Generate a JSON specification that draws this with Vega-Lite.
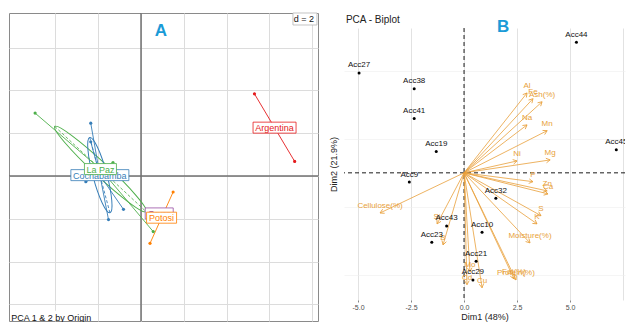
{
  "$schema": "https://vega.github.io/schema/vega-lite/v6.json",
  "padding": {"left": 7, "top": 10, "right": 0, "bottom": 0},
  "background": "white",
  "bounds": "flush",
  "spacing": 26,
  "config": {
    "font": "Liberation Sans",
    "axis": {"labelFont": "Liberation Sans", "titleFont": "Liberation Sans"},
    "text": {"font": "Liberation Sans"}
  },
  "datasets": {
    "acc": [
      {"name": "Acc44", "origin": "Argentina", "x": 5.30, "y": 3.84},
      {"name": "Acc45", "origin": "Argentina", "x": 7.18, "y": 0.68},
      {"name": "Acc38", "origin": "Cochabamba", "x": -2.35, "y": 2.47},
      {"name": "Acc41", "origin": "Cochabamba", "x": -2.35, "y": 1.60},
      {"name": "Acc9", "origin": "Cochabamba", "x": -2.58, "y": -0.27},
      {"name": "Acc23", "origin": "Cochabamba", "x": -1.52, "y": -2.04},
      {"name": "Acc43", "origin": "Cochabamba", "x": -0.82, "y": -1.56},
      {"name": "Acc27", "origin": "La Paz", "x": -4.95, "y": 2.94},
      {"name": "Acc19", "origin": "La Paz", "x": -1.31, "y": 0.63},
      {"name": "Acc21", "origin": "La Paz", "x": 0.57, "y": -2.60},
      {"name": "Acc10", "origin": "Oruro", "x": 0.85, "y": -1.75},
      {"name": "Acc32", "origin": "Potosi", "x": 1.50, "y": -0.75},
      {"name": "Acc29", "origin": "Potosi", "x": 0.42, "y": -3.15}
    ],
    "vars": [
      {"name": "Al", "x": 2.97, "y": 2.35},
      {"name": "Fe", "x": 3.25, "y": 2.18},
      {"name": "Ash(%)", "x": 3.68, "y": 2.09},
      {"name": "Na", "x": 2.97, "y": 1.41},
      {"name": "Mn", "x": 3.92, "y": 1.24},
      {"name": "Ni", "x": 2.50, "y": 0.35},
      {"name": "Mg", "x": 4.06, "y": 0.38},
      {"name": "P", "x": 3.25, "y": -0.26},
      {"name": "Zn", "x": 3.92, "y": -0.53},
      {"name": "Ca", "x": 3.96, "y": -0.62},
      {"name": "S", "x": 3.63, "y": -1.26},
      {"name": "K", "x": 3.44, "y": -1.50},
      {"name": "Moisture(%)", "x": 3.11, "y": -2.06},
      {"name": "Protein(%)", "x": 2.45, "y": -3.15},
      {"name": "Fat(%)", "x": 2.36, "y": -3.12},
      {"name": "Cu", "x": 0.85, "y": -3.38},
      {"name": "Mo", "x": 0.28, "y": -2.91},
      {"name": "Cd", "x": 0.14, "y": -3.29},
      {"name": "Cellulose(%)", "x": -3.96, "y": -1.18},
      {"name": "Si", "x": -1.27, "y": -1.50},
      {"name": "B", "x": -0.99, "y": -2.12}
    ]
  },
  "hconcat": [
    {
      "width": 309,
      "height": 308,
      "view": {"stroke": "#8a8a8a", "strokeWidth": 1},
      "data": {"name": "acc"},
      "layer": [
        {
          "data": {"values": [{}]},
          "mark": {"type": "rule", "color": "#707070", "strokeWidth": 1.5},
          "encoding": {
            "x": {"datum": 0, "type": "quantitative",
              "scale": {"domain": [-6.17, 8.27], "nice": false, "zero": false},
              "axis": {"values": [-4, -2, 0, 2, 4, 6, 8], "grid": true, "gridColor": "#dcdcdc", "gridWidth": 1, "labels": false, "ticks": false, "domain": false, "title": null}}
          }
        },
        {
          "data": {"values": [{}]},
          "mark": {"type": "rule", "color": "#707070", "strokeWidth": 1.5},
          "encoding": {
            "y": {"datum": 0, "type": "quantitative",
              "scale": {"domain": [-6.78, 7.62], "nice": false, "zero": false},
              "axis": {"values": [-6, -4, -2, 0, 2, 4, 6], "grid": true, "gridColor": "#dcdcdc", "gridWidth": 1, "labels": false, "ticks": false, "domain": false, "title": null}}
          }
        },
        {
          "transform": [
            {"aggregate": [{"op": "mean", "field": "x", "as": "cx"}, {"op": "mean", "field": "y", "as": "cy"}], "groupby": ["origin"]},
            {"filter": "datum.origin === 'La Paz'"}
          ],
          "mark": {"type": "point", "shape": "M -62.5 0 A 62.5 7 0 1 0 62.5 0 A 62.5 7 0 1 0 -62.5 0 Z", "size": 4, "angle": 43, "filled": false, "strokeWidth": 1, "opacity": 1, "color": "#4DAF4A"},
          "encoding": {"x": {"field": "cx", "type": "quantitative"}, "y": {"field": "cy", "type": "quantitative"}}
        },
        {
          "transform": [
            {"aggregate": [{"op": "mean", "field": "x", "as": "cx"}, {"op": "mean", "field": "y", "as": "cy"}], "groupby": ["origin"]},
            {"filter": "datum.origin === 'La Paz'"}
          ],
          "mark": {"type": "point", "shape": "M -62.5 0 L 62.5 0", "size": 4, "angle": 43, "filled": false, "strokeWidth": 0.8, "strokeDash": [3, 2], "opacity": 1, "color": "#4DAF4A"},
          "encoding": {"x": {"field": "cx", "type": "quantitative"}, "y": {"field": "cy", "type": "quantitative"}}
        },
        {
          "transform": [
            {"aggregate": [{"op": "mean", "field": "x", "as": "cx"}, {"op": "mean", "field": "y", "as": "cy"}], "groupby": ["origin"]},
            {"filter": "datum.origin === 'Cochabamba'"}
          ],
          "mark": {"type": "point", "shape": "M -39 0 A 39 7 0 1 0 39 0 A 39 7 0 1 0 -39 0 Z", "size": 4, "angle": 75, "filled": false, "strokeWidth": 1, "opacity": 1, "color": "#377EB8"},
          "encoding": {"x": {"field": "cx", "type": "quantitative"}, "y": {"field": "cy", "type": "quantitative"}}
        },
        {
          "transform": [
            {"aggregate": [{"op": "mean", "field": "x", "as": "cx"}, {"op": "mean", "field": "y", "as": "cy"}], "groupby": ["origin"]},
            {"filter": "datum.origin === 'Cochabamba'"}
          ],
          "mark": {"type": "point", "shape": "M -39 0 L 39 0", "size": 4, "angle": 75, "filled": false, "strokeWidth": 0.8, "strokeDash": [3, 2], "opacity": 1, "color": "#377EB8"},
          "encoding": {"x": {"field": "cx", "type": "quantitative"}, "y": {"field": "cy", "type": "quantitative"}}
        },
        {
          "transform": [{"joinaggregate": [{"op": "mean", "field": "x", "as": "cx"}, {"op": "mean", "field": "y", "as": "cy"}], "groupby": ["origin"]}],
          "mark": {"type": "rule", "strokeWidth": 0.9},
          "encoding": {
            "x": {"field": "x", "type": "quantitative"},
            "y": {"field": "y", "type": "quantitative"},
            "x2": {"field": "cx"},
            "y2": {"field": "cy"},
            "color": {"field": "origin", "type": "nominal", "scale": {"domain": ["Argentina", "Cochabamba", "La Paz", "Oruro", "Potosi"], "range": ["#E41A1C", "#377EB8", "#4DAF4A", "#984EA3", "#FF7F00"]}, "legend": null}
          }
        },
        {
          "mark": {"type": "point", "filled": true, "size": 10, "opacity": 1},
          "encoding": {
            "x": {"field": "x", "type": "quantitative"},
            "y": {"field": "y", "type": "quantitative"},
            "color": {"field": "origin", "type": "nominal", "legend": null}
          }
        },
        {
          "transform": [
            {"aggregate": [{"op": "mean", "field": "x", "as": "cx"}, {"op": "mean", "field": "y", "as": "cy"}], "groupby": ["origin"]},
            {"filter": {"field": "origin", "oneOf": ["Argentina", "Cochabamba"]}}
          ],
          "mark": {"type": "point", "filled": true, "fill": "white", "size": 4, "opacity": 1, "strokeWidth": 0.8},
          "encoding": {
            "x": {"field": "cx", "type": "quantitative"},
            "y": {"field": "cy", "type": "quantitative"},
            "shape": {"field": "origin", "type": "nominal", "legend": null, "scale": {"domain": ["Argentina", "Cochabamba", "La Paz", "Oruro", "Potosi"], "range": ["M -21.5 -5.5 L 21.5 -5.5 L 21.5 5.5 L -21.5 5.5 Z", "M -29 -5.5 L 29 -5.5 L 29 5.5 L -29 5.5 Z", "M -16 -5.5 L 16 -5.5 L 16 5.5 L -16 5.5 Z", "M -14 -5.5 L 14 -5.5 L 14 5.5 L -14 5.5 Z", "M -15 -5.5 L 15 -5.5 L 15 5.5 L -15 5.5 Z"]}},
            "stroke": {"field": "origin", "type": "nominal", "legend": null, "scale": {"domain": ["Argentina", "Cochabamba", "La Paz", "Oruro", "Potosi"], "range": ["#E41A1C", "#377EB8", "#4DAF4A", "#984EA3", "#FF7F00"]}}
          }
        },
        {
          "transform": [
            {"aggregate": [{"op": "mean", "field": "x", "as": "cx"}, {"op": "mean", "field": "y", "as": "cy"}], "groupby": ["origin"]},
            {"filter": {"field": "origin", "oneOf": ["Argentina", "Cochabamba"]}}
          ],
          "mark": {"type": "text", "fontSize": 9, "baseline": "middle", "align": "center", "dy": 0.5},
          "encoding": {
            "x": {"field": "cx", "type": "quantitative"},
            "y": {"field": "cy", "type": "quantitative"},
            "text": {"field": "origin"},
            "color": {"field": "origin", "type": "nominal", "legend": null}
          }
        },
        {
          "transform": [
            {"aggregate": [{"op": "mean", "field": "x", "as": "cx"}, {"op": "mean", "field": "y", "as": "cy"}], "groupby": ["origin"]},
            {"filter": {"field": "origin", "oneOf": ["La Paz", "Oruro"]}}
          ],
          "mark": {"type": "point", "filled": true, "fill": "white", "size": 4, "opacity": 1, "strokeWidth": 0.8},
          "encoding": {
            "x": {"field": "cx", "type": "quantitative"},
            "y": {"field": "cy", "type": "quantitative"},
            "shape": {"field": "origin", "type": "nominal", "legend": null},
            "stroke": {"field": "origin", "type": "nominal", "legend": null}
          }
        },
        {
          "transform": [
            {"aggregate": [{"op": "mean", "field": "x", "as": "cx"}, {"op": "mean", "field": "y", "as": "cy"}], "groupby": ["origin"]},
            {"filter": {"field": "origin", "oneOf": ["La Paz", "Oruro"]}}
          ],
          "mark": {"type": "text", "fontSize": 9, "baseline": "middle", "align": "center", "dy": 0.5},
          "encoding": {
            "x": {"field": "cx", "type": "quantitative"},
            "y": {"field": "cy", "type": "quantitative"},
            "text": {"field": "origin"},
            "color": {"field": "origin", "type": "nominal", "legend": null}
          }
        },
        {
          "transform": [
            {"aggregate": [{"op": "mean", "field": "x", "as": "cx"}, {"op": "mean", "field": "y", "as": "cy"}], "groupby": ["origin"]},
            {"filter": "datum.origin === 'Potosi'"}
          ],
          "mark": {"type": "point", "filled": true, "fill": "white", "size": 4, "opacity": 1, "strokeWidth": 0.8},
          "encoding": {
            "x": {"field": "cx", "type": "quantitative"},
            "y": {"field": "cy", "type": "quantitative"},
            "shape": {"field": "origin", "type": "nominal", "legend": null},
            "stroke": {"field": "origin", "type": "nominal", "legend": null}
          }
        },
        {
          "transform": [
            {"aggregate": [{"op": "mean", "field": "x", "as": "cx"}, {"op": "mean", "field": "y", "as": "cy"}], "groupby": ["origin"]},
            {"filter": "datum.origin === 'Potosi'"}
          ],
          "mark": {"type": "text", "fontSize": 9, "baseline": "middle", "align": "center", "dy": 0.5},
          "encoding": {
            "x": {"field": "cx", "type": "quantitative"},
            "y": {"field": "cy", "type": "quantitative"},
            "text": {"field": "origin"},
            "color": {"field": "origin", "type": "nominal", "legend": null}
          }
        },
        {
          "data": {"values": [{}]},
          "mark": {"type": "text", "text": "A", "fontSize": 17, "fontWeight": "bold", "color": "#1A9BD7", "baseline": "middle", "align": "center"},
          "encoding": {"x": {"datum": 0.93}, "y": {"datum": 6.78}}
        },
        {
          "data": {"values": [{}]},
          "mark": {"type": "point", "shape": "M -12 -6 L 12 -6 L 12 6 L -12 6 Z", "size": 4, "filled": true, "fill": "white", "stroke": "#b5b5b5", "strokeWidth": 0.8, "opacity": 1},
          "encoding": {"x": {"datum": 7.66}, "y": {"datum": 7.34}}
        },
        {
          "data": {"values": [{}]},
          "mark": {"type": "text", "text": "d = 2", "fontSize": 9, "color": "#111", "baseline": "middle", "align": "right"},
          "encoding": {"x": {"datum": 8.08}, "y": {"datum": 7.34}}
        },
        {
          "data": {"values": [{}]},
          "mark": {"type": "point", "shape": "M -42 -5 L 42 -5 L 42 5 L -42 5 Z", "size": 4, "filled": true, "fill": "white", "strokeWidth": 0, "opacity": 1},
          "encoding": {"x": {"datum": -4.16}, "y": {"datum": -6.54}}
        },
        {
          "data": {"values": [{}]},
          "mark": {"type": "text", "text": "PCA 1 & 2 by Origin", "fontSize": 9, "color": "#111", "baseline": "middle", "align": "left"},
          "encoding": {"x": {"datum": -6.07}, "y": {"datum": -6.64}}
        }
      ]
    },
    {
      "spacing": 0,
      "bounds": "flush",
      "vconcat": [
        {
          "width": 281,
          "height": 15,
          "view": {"stroke": null},
          "data": {"values": [{}]},
          "mark": {"type": "text", "baseline": "top", "fontSize": 1},
          "encoding": {"text": {"value": ""}, "x": {"value": 0}, "y": {"value": 0}}
        },
        {
          "width": 281,
          "height": 272,
          "view": {"stroke": null},
          "layer": [
            {
              "data": {"values": [{}]},
              "mark": {"type": "rule", "strokeDash": [4, 3], "color": "#000", "strokeWidth": 0.9},
              "encoding": {
                "x": {"datum": 0, "type": "quantitative",
                  "scale": {"domain": [-5.66, 7.59], "nice": false, "zero": false},
                  "axis": {
                    "title": "Dim1 (48%)",
                    "values": [-5, -3.75, -2.5, -1.25, 0, 1.25, 2.5, 3.75, 5, 6.25, 7.5],
                    "labelExpr": "(abs(datum.value/2.5 - round(datum.value/2.5)) < 0.01 && datum.value < 7) ? replace(format(datum.value, '.1f'), '\u2212', '-') : ''",
                    "labelOverlap": false,
                    "labelFlush": false,
                    "grid": true,
                    "gridColor": {"condition": {"test": "abs(datum.value/2.5 - round(datum.value/2.5)) < 0.01", "value": "#e2e2e2"}, "value": "#eeeeee"},
                    "gridWidth": {"condition": {"test": "abs(datum.value/2.5 - round(datum.value/2.5)) < 0.01", "value": 1}, "value": 0.6},
                    "tickOpacity": {"condition": {"test": "abs(datum.value/2.5 - round(datum.value/2.5)) < 0.01 && datum.value < 7", "value": 1}, "value": 0},
                    "domain": false,
                    "tickSize": 2,
                    "tickColor": "#666",
                    "tickWidth": 0.8,
                    "labelFontSize": 7,
                    "labelColor": "#4d4d4d",
                    "labelPadding": 1,
                    "titleFontSize": 9,
                    "titleFontWeight": "normal",
                    "titleColor": "#222",
                    "titlePadding": 2
                  }}
              }
            },
            {
              "data": {"values": [{}]},
              "mark": {"type": "rule", "strokeDash": [4, 3], "color": "#000", "strokeWidth": 0.9},
              "encoding": {
                "y": {"datum": 0, "type": "quantitative",
                  "scale": {"domain": [-3.74, 4.26], "nice": false, "zero": false},
                  "axis": {
                    "title": "Dim2 (21.9%)",
                    "values": [-3, -2, -1, 0, 1, 2, 3, 4],
                    "labelExpr": "datum.value % 2 == 0 ? '' + datum.value : ''",
                    "labelOverlap": false,
                    "labelFlush": false,
                    "grid": true,
                    "gridColor": {"condition": {"test": "datum.value % 2 == 0", "value": "#e2e2e2"}, "value": "#eeeeee"},
                    "gridWidth": {"condition": {"test": "datum.value % 2 == 0", "value": 1}, "value": 0.6},
                    "tickOpacity": {"condition": {"test": "datum.value % 2 == 0", "value": 1}, "value": 0},
                    "domain": false,
                    "tickSize": 2,
                    "tickColor": "#666",
                    "tickWidth": 0.8,
                    "labelFontSize": 7,
                    "labelColor": "#4d4d4d",
                    "labelPadding": 1,
                    "titleFontSize": 9,
                    "titleFontWeight": "normal",
                    "titleColor": "#222",
                    "titlePadding": 3
                  }}
              }
            },
            {
              "data": {"name": "vars"},
              "mark": {"type": "rule", "color": "#E89F3A", "strokeWidth": 0.8},
              "encoding": {
                "x": {"field": "x", "type": "quantitative"},
                "y": {"field": "y", "type": "quantitative"},
                "x2": {"datum": 0},
                "y2": {"datum": 0}
              }
            },
            {
              "data": {"name": "vars"},
              "transform": [{"calculate": "atan2(datum.x * 21.2, datum.y * 34) * 180 / PI", "as": "ang"}],
              "mark": {"type": "point", "shape": "M -2.3 4 L 0 0 L 2.3 4", "size": 4, "filled": false, "color": "#E89F3A", "strokeWidth": 0.8, "opacity": 1},
              "encoding": {
                "x": {"field": "x", "type": "quantitative"},
                "y": {"field": "y", "type": "quantitative"},
                "angle": {"field": "ang", "type": "quantitative", "scale": null}
              }
            },
            {
              "data": {"name": "vars"},
              "mark": {"type": "text", "fontSize": 8, "color": "#E89F3A", "baseline": "middle", "align": "center", "dy": -7},
              "encoding": {
                "x": {"field": "x", "type": "quantitative"},
                "y": {"field": "y", "type": "quantitative"},
                "text": {"field": "name"}
              }
            },
            {
              "data": {"name": "acc"},
              "mark": {"type": "point", "filled": true, "size": 9, "color": "#000", "opacity": 1},
              "encoding": {
                "x": {"field": "x", "type": "quantitative"},
                "y": {"field": "y", "type": "quantitative"}
              }
            },
            {
              "data": {"name": "acc"},
              "mark": {"type": "text", "fontSize": 8, "color": "#111", "baseline": "middle", "align": "center", "dy": -7.5, "clip": true},
              "encoding": {
                "x": {"field": "x", "type": "quantitative"},
                "y": {"field": "y", "type": "quantitative"},
                "text": {"field": "name"}
              }
            },
            {
              "data": {"values": [{}]},
              "mark": {"type": "text", "text": "PCA - Biplot", "fontSize": 10, "color": "#222", "baseline": "middle", "align": "left"},
              "encoding": {"x": {"datum": -5.57}, "y": {"datum": 4.5}}
            },
            {
              "data": {"values": [{}]},
              "mark": {"type": "text", "text": "B", "fontSize": 17, "fontWeight": "bold", "color": "#1A9BD7", "baseline": "middle", "align": "center"},
              "encoding": {"x": {"datum": 1.84}, "y": {"datum": 4.29}}
            }
          ]
        }
      ]
    }
  ]
}
